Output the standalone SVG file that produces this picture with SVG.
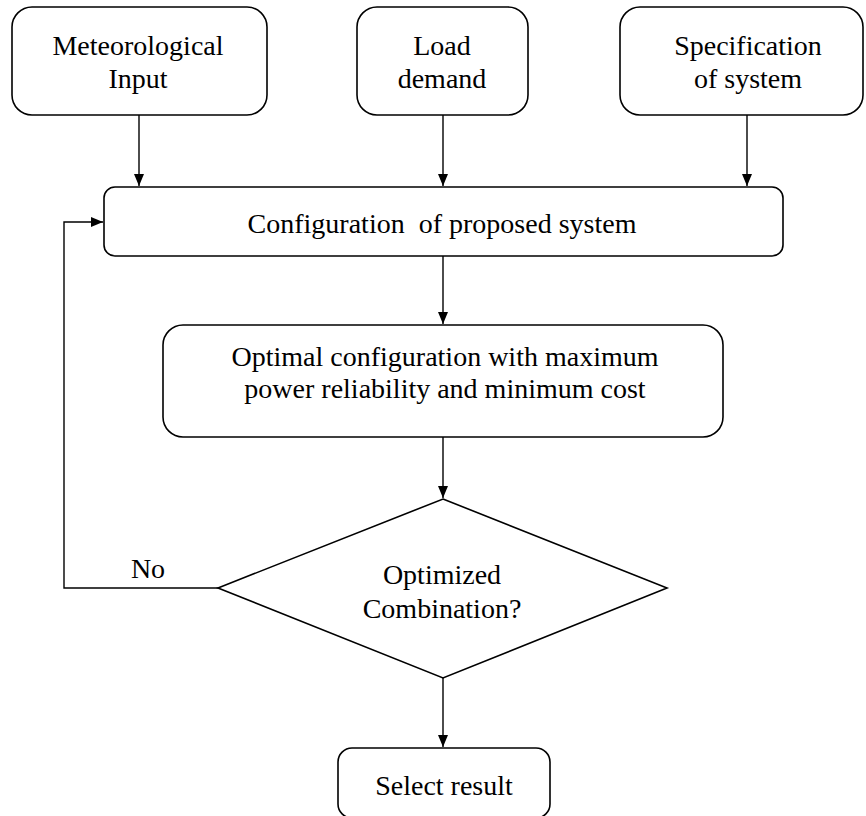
<svg xmlns="http://www.w3.org/2000/svg" width="866" height="816" viewBox="0 0 866 816">
<style>
.box{fill:#fff;stroke:#000;stroke-width:1.6}
.t{font-size:28px;fill:#000;text-anchor:middle}
.c{fill:none;stroke:#000;stroke-width:1.4}
</style>
<defs>
<marker id="ah" viewBox="0 0 12 12" refX="12" refY="6" markerWidth="12" markerHeight="12" markerUnits="userSpaceOnUse" orient="auto">
<path d="M0,1 L12,6 L0,11 Z" fill="#000"/>
</marker>
</defs>
<rect width="866" height="816" fill="#fff"/>
<g id="connectors">
<line class="c" x1="139" y1="115" x2="139" y2="186" marker-end="url(#ah)"/>
<line class="c" x1="443" y1="115" x2="443" y2="186" marker-end="url(#ah)"/>
<line class="c" x1="747" y1="115" x2="747" y2="186" marker-end="url(#ah)"/>
<line class="c" x1="443" y1="256" x2="443" y2="324" marker-end="url(#ah)"/>
<line class="c" x1="443" y1="437" x2="443" y2="498" marker-end="url(#ah)"/>
<line class="c" x1="443" y1="678" x2="443" y2="747" marker-end="url(#ah)"/>
<polyline class="c" points="218,588 64,588 64,222 103,222" marker-end="url(#ah)"/>
<text class="t" x="148" y="578" font-family="Liberation Serif">No</text>
</g>
<g id="meteorological">
<rect class="box" x="12" y="7" width="255" height="108" rx="20"/>
<text class="t" x="138" y="55" font-family="Liberation Serif">Meteorological</text>
<text class="t" x="138" y="88" font-family="Liberation Serif">Input</text>
</g>
<g id="load">
<rect class="box" x="357" y="7" width="171" height="108" rx="20"/>
<text class="t" x="442" y="55" font-family="Liberation Serif">Load</text>
<text class="t" x="442" y="88" font-family="Liberation Serif">demand</text>
</g>
<g id="spec">
<rect class="box" x="620" y="7" width="243" height="108" rx="20"/>
<text class="t" x="748" y="55" font-family="Liberation Serif">Specification</text>
<text class="t" x="748" y="88" font-family="Liberation Serif">of system</text>
</g>
<g id="config">
<rect class="box" x="104" y="187" width="679" height="69" rx="11"/>
<text class="t" x="442" y="233" xml:space="preserve" font-family="Liberation Serif">Configuration  of proposed system</text>
</g>
<g id="optimal">
<rect class="box" x="163" y="325" width="560" height="112" rx="20"/>
<text class="t" x="445" y="366" font-family="Liberation Serif">Optimal configuration with maximum</text>
<text class="t" x="445" y="398" font-family="Liberation Serif">power reliability and minimum cost</text>
</g>
<g id="decision">
<polygon class="box" points="443,499 667,588 443,678 218,588"/>
<text class="t" x="442" y="584" font-family="Liberation Serif">Optimized</text>
<text class="t" x="442" y="618" font-family="Liberation Serif">Combination?</text>
</g>
<g id="select">
<rect class="box" x="338" y="748" width="212" height="70" rx="14"/>
<text class="t" x="444" y="795" font-family="Liberation Serif">Select result</text>
</g>
</svg>
